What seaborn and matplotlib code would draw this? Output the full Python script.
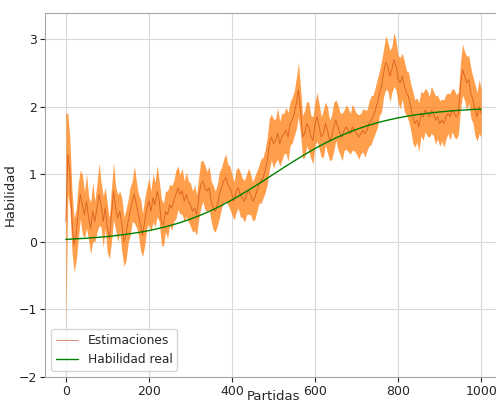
import numpy as np
import pandas as pd
import matplotlib
matplotlib.use("Agg")
import matplotlib.pyplot as plt
import seaborn as sns

# Games played (every 5th game)
partidas = list(range(0, 1001, 5))

# Estimated skill (posterior mean) per game
estimacion = [
    0.3, 1.3, 1.0, 0.3, -0.05, 0.1, 0.45, 0.7, 0.55, 0.4,
    0.6, 0.35, 0.2, 0.45, 0.3, 0.5, 0.7, 0.55, 0.3, 0.5,
    0.2, 0.05, 0.4, 0.75, 0.5, 0.35, 0.45, 0.25, 0.0, 0.1,
    0.3, 0.45, 0.6, 0.7, 0.55, 0.4, 0.25, 0.1, 0.3, 0.5,
    0.6, 0.45, 0.65, 0.55, 0.75, 0.6, 0.3, 0.25, 0.45, 0.4,
    0.55, 0.5, 0.6, 0.7, 0.8, 0.7, 0.75, 0.6, 0.7, 0.6,
    0.55, 0.45, 0.5, 0.4, 0.65, 0.85, 0.9, 0.8, 0.75, 0.8,
    0.6, 0.5, 0.45, 0.55, 0.7, 0.8, 0.9, 0.95, 0.85, 0.8,
    0.7, 0.6, 0.75, 0.8, 0.7, 0.65, 0.6, 0.7, 0.75, 0.7,
    0.6, 0.65, 0.75, 0.85, 0.9, 0.95, 1.05, 1.2, 1.45, 1.55,
    1.45, 1.5, 1.6, 1.45, 1.55, 1.6, 1.65, 1.55, 1.75, 1.8,
    1.9, 2.05, 2.25, 1.95, 1.55, 1.6, 1.75, 1.7, 1.55, 1.5,
    1.75, 1.85, 1.7, 1.55, 1.6, 1.75, 1.65, 1.5, 1.55, 1.7,
    1.8, 1.7, 1.6, 1.55, 1.65, 1.7, 1.65, 1.6, 1.7, 1.65,
    1.6, 1.55, 1.6, 1.65, 1.6, 1.65, 1.75, 1.8, 1.85, 1.95,
    2.05, 2.2, 2.3, 2.5, 2.65, 2.6, 2.45, 2.55, 2.7, 2.6,
    2.4, 2.35, 2.45, 2.3, 2.2, 2.15, 2.0, 1.85, 1.75, 1.8,
    1.7, 1.9, 1.85, 1.95, 1.9, 1.85, 1.95, 1.9, 1.8, 1.85,
    1.75, 1.8, 1.75, 1.85, 1.9, 1.85, 1.95, 1.9, 1.85, 1.9,
    2.3, 2.55, 2.45, 2.35, 2.4, 2.2, 2.1, 1.95, 1.85, 2.0,
    1.9,
]

# Uncertainty half-width of the estimate per game
incertidumbre = [
    1.6, 0.6, 0.5, 0.45, 0.4, 0.38, 0.42, 0.36, 0.44, 0.34,
    0.4, 0.32, 0.38, 0.44, 0.3, 0.36, 0.46, 0.33, 0.38, 0.3,
    0.36, 0.3, 0.4, 0.42, 0.32, 0.35, 0.3, 0.4, 0.36, 0.38,
    0.32, 0.36, 0.3, 0.42, 0.34, 0.3, 0.38, 0.32, 0.35, 0.3,
    0.34, 0.3, 0.36, 0.33, 0.38, 0.3, 0.34, 0.32, 0.3, 0.35,
    0.3, 0.33, 0.3, 0.36, 0.32, 0.29, 0.34, 0.3, 0.33, 0.3,
    0.32, 0.3, 0.34, 0.3, 0.31, 0.35, 0.3, 0.33, 0.29, 0.32,
    0.3, 0.33, 0.3, 0.31, 0.34, 0.3, 0.32, 0.35, 0.3, 0.32,
    0.3, 0.28, 0.32, 0.3, 0.33, 0.29, 0.31, 0.3, 0.34, 0.3,
    0.29, 0.32, 0.3, 0.28, 0.33, 0.3, 0.32, 0.35, 0.38, 0.34,
    0.36, 0.32, 0.38, 0.33, 0.35, 0.3, 0.34, 0.36, 0.32, 0.34,
    0.33, 0.38, 0.4, 0.34, 0.32, 0.35, 0.33, 0.36, 0.32, 0.35,
    0.32, 0.36, 0.33, 0.3, 0.35, 0.32, 0.34, 0.3, 0.33, 0.36,
    0.3, 0.33, 0.31, 0.35, 0.3, 0.33, 0.32, 0.3, 0.34, 0.31,
    0.3, 0.33, 0.3, 0.32, 0.35, 0.3, 0.33, 0.36, 0.32, 0.34,
    0.36, 0.33, 0.38, 0.35, 0.4, 0.36, 0.38, 0.34, 0.4, 0.36,
    0.35, 0.38, 0.34, 0.37, 0.33, 0.36, 0.34, 0.38, 0.35, 0.33,
    0.36, 0.33, 0.35, 0.32, 0.34, 0.3, 0.35, 0.33, 0.36, 0.32,
    0.34, 0.31, 0.35, 0.33, 0.3, 0.34, 0.32, 0.35, 0.33, 0.31,
    0.35, 0.38, 0.36, 0.4, 0.35, 0.37, 0.34, 0.38, 0.36, 0.4,
    0.35,
]

# True skill curve, every 25 games
partidas_real = list(range(0, 1001, 25))
habilidad_real = [
    0.036, 0.044, 0.053, 0.065, 0.078, 0.095, 0.115, 0.138, 0.166, 0.200,
    0.238, 0.284, 0.336, 0.396, 0.463, 0.538, 0.620, 0.709, 0.803, 0.900,
    1.000, 1.100, 1.197, 1.291, 1.380, 1.462, 1.537, 1.604, 1.664, 1.716,
    1.762, 1.800, 1.834, 1.862, 1.885, 1.905, 1.921, 1.935, 1.947, 1.956,
    1.964,
]

df = pd.DataFrame({"Partidas": partidas, "mu": estimacion, "sd": incertidumbre})
df_real = pd.DataFrame({"Partidas": partidas_real, "Habilidad": habilidad_real})

sns.set_style("whitegrid", {
    "axes.edgecolor": "0.65",
    "grid.color": "0.85",
    "xtick.bottom": True,
    "ytick.left": True,
    "xtick.color": "0.15",
    "ytick.color": "0.15",
})
plt.rcParams["font.family"] = ["DejaVu Sans"]

fig = plt.figure(figsize=(4.96, 4.03), dpi=100)
ax = fig.add_axes([45 / 496, 26 / 403, 457 / 496, 364 / 403])

ax.fill_between(df["Partidas"], df["mu"] - df["sd"], df["mu"] + df["sd"],
                color="#ff7f0e", alpha=0.75, linewidth=0)
sns.lineplot(data=df, x="Partidas", y="mu", ax=ax, color="#c8400a",
             alpha=0.6, linewidth=0.7, label="Estimaciones")
sns.lineplot(data=df_real, x="Partidas", y="Habilidad", ax=ax,
             color="green", linewidth=1.0, label="Habilidad real")

ax.set_xlim(-50, 1050)
ax.set_ylim(-2, 3.385)
ax.set_xticks([0, 200, 400, 600, 800, 1000])
ax.set_yticks([-2, -1, 0, 1, 2, 3])
ax.tick_params(axis="both", labelsize=9, length=3.5, width=0.8, pad=2.5)
ax.set_xlabel("Partidas", fontsize=9.5, labelpad=-6)
ax.set_ylabel("Habilidad", fontsize=9.5, labelpad=1)
ax.legend(loc="lower left", fontsize=8.8, framealpha=0.8, handlelength=1.8)

fig.savefig("out.png", dpi=100)
